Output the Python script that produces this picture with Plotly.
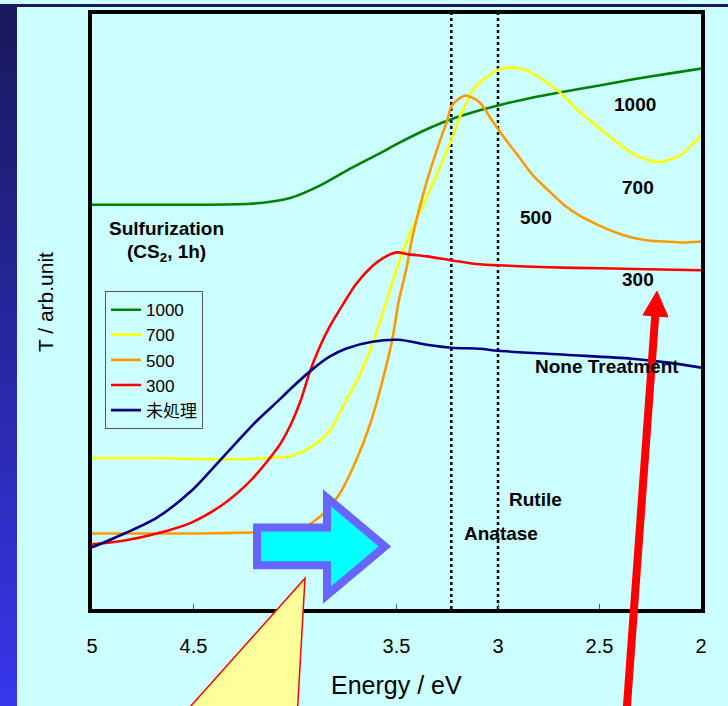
import plotly.graph_objects as go

# ---------------- data (Energy in eV, transmittance in arbitrary units) ----------------
e_1000 = [5.00, 4.71, 4.47, 4.22, 4.12, 4.02, 3.88, 3.73, 3.58, 3.49, 3.34, 3.23, 3.09, 3.00,
          2.85, 2.67, 2.50, 2.34, 2.16, 2.00]
t_1000 = [408, 408, 408, 409, 411, 415, 427, 444, 460, 470, 485, 494, 503, 508,
          515, 522, 528, 534, 540, 545]

e_700 = [5.00, 4.71, 4.47, 4.22, 4.12, 4.02, 3.93, 3.83, 3.75, 3.68, 3.62, 3.57, 3.52, 3.47,
         3.42, 3.36, 3.29, 3.23, 3.18, 3.11, 3.04, 3.00, 2.93, 2.87, 2.81, 2.70, 2.59, 2.47,
         2.34, 2.26, 2.20, 2.10, 2.05, 2.00]
t_700 = [153, 153, 152, 152, 153, 155, 163, 180, 210, 237, 267, 297, 330, 360,
         385, 412, 444, 473, 500, 527, 539, 544, 546, 544, 538, 522, 500, 480,
         460, 453, 451, 458, 467, 478]

e_500 = [5.00, 4.71, 4.47, 4.22, 4.07, 3.98, 3.93, 3.86, 3.78, 3.70, 3.63, 3.57, 3.52, 3.49,
         3.45, 3.42, 3.36, 3.29, 3.25, 3.23, 3.19, 3.16, 3.13, 3.09, 3.03, 2.96, 2.90, 2.83,
         2.75, 2.67, 2.59, 2.50, 2.42, 2.34, 2.26, 2.18, 2.09, 2.00]
t_500 = [77, 77, 77, 78, 79, 81, 86, 97, 117, 150, 187, 230, 273, 310,
         345, 377, 425, 470, 493, 507, 515, 518, 516, 511, 493, 473, 457, 438,
         422, 407, 396, 387, 380, 375, 372, 371, 370, 371]

e_300 = [5.00, 4.84, 4.68, 4.51, 4.35, 4.22, 4.12, 4.07, 4.02, 3.97, 3.93, 3.88, 3.83, 3.76,
         3.70, 3.62, 3.56, 3.50, 3.44, 3.35, 3.23, 3.09, 3.00, 2.75, 2.50, 2.26, 2.00]
t_300 = [66, 70, 77, 88, 107, 130, 154, 168, 187, 212, 238, 264, 285, 309,
         328, 346, 355, 360, 358, 356, 352, 348, 347, 345, 344, 343, 342]

e_none = [5.00, 4.84, 4.68, 4.51, 4.35, 4.19, 4.07, 4.02, 3.91, 3.83, 3.75, 3.62, 3.49, 3.35,
          3.23, 3.09, 3.00, 2.67, 2.34, 2.16, 2.00]
t_none = [63, 77, 93, 120, 155, 190, 213, 223, 243, 255, 263, 270, 272, 267,
          264, 263, 261, 257, 253, 249, 244]

series_names = ["1000", "700", "500", "300", "未処理"]
series_colors = ["#008000", "#ffff00", "#ff9900", "#ff0000", "#000080"]

x_tickvals = [5, 4.5, 4, 3.5, 3, 2.5, 2]
anatase_ev = 3.23
rutile_ev = 3.0

# ---------------- layout geometry ----------------
W, H = 728, 706
L, R, T, B = 92, 27, 10, 97
PW, PH = W - L - R, H - T - B
BG = "#ccffff"


def px(x):
    return (x - L) / PW


def py(y):
    return (H - B - y) / PH


fig = go.Figure()
all_e = [e_1000, e_700, e_500, e_300, e_none]
all_t = [t_1000, t_700, t_500, t_300, t_none]
for name, col, e, t in zip(series_names, series_colors, all_e, all_t):
    fig.add_trace(go.Scatter(x=e, y=t, mode="lines", name=name,
                             line=dict(color=col, width=2.6, shape="spline", smoothing=0.8)))

shapes = []
# left gradient strip + top strip
n = 30
c0 = (0x1a, 0x1a, 0x5e)
c1 = (0x36, 0x36, 0xea)
for i in range(n):
    f = i / (n - 1)
    c = tuple(int(c0[k] + (c1[k] - c0[k]) * f) for k in range(3))
    y0 = H * i / n
    y1 = H * (i + 1) / n + 1
    shapes.append(dict(type="rect", xref="paper", yref="paper", layer="below",
                       x0=px(0), x1=px(17), y0=py(y1), y1=py(y0),
                       fillcolor="rgb(%d,%d,%d)" % c, line=dict(width=0)))
shapes.append(dict(type="rect", xref="paper", yref="paper", layer="below",
                   x0=px(0), x1=px(W), y0=py(3), y1=py(0),
                   fillcolor="#1a1a5e", line=dict(width=0)))

# dotted reference lines
for ev in (anatase_ev, rutile_ev):
    shapes.append(dict(type="line", xref="x", yref="paper", x0=ev, x1=ev, y0=0, y1=1,
                       line=dict(color="black", width=2.5, dash="dot"), layer="below"))


def path(points):
    return "M " + " L ".join("%f,%f" % (px(a), py(b)) for a, b in points) + " Z"


# block arrow
shapes.append(dict(type="path", xref="paper", yref="paper", layer="above",
                   path=path([(257, 527), (327, 527), (327, 497), (385, 546), (327, 595),
                              (327, 565), (257, 565)]),
                   fillcolor="#00ffff", line=dict(color="#6666ff", width=8)))
# yellow callout
shapes.append(dict(type="path", xref="paper", yref="paper", layer="above",
                   path=path([(305, 578), (179, 720), (297, 720)]),
                   fillcolor="#ffff99", line=dict(color="#ff0000", width=1.5)))
# red arrow
shapes.append(dict(type="line", xref="paper", yref="paper", layer="above",
                   x0=px(626), y0=py(720), x1=px(655.5), y1=py(310),
                   line=dict(color="#ff0000", width=8)))
shapes.append(dict(type="path", xref="paper", yref="paper", layer="above",
                   path=path([(657, 289), (668, 315), (643, 313)]),
                   fillcolor="#ff0000", line=dict(color="#ff0000", width=1)))

BOLD = "Liberation Sans, Arial, sans-serif"
ann = []


def label(text, x, y, size=19, bold=True, angle=0):
    ann.append(dict(text=("<b>%s</b>" % text) if bold else text, xref="paper", yref="paper",
                    x=px(x), y=py(y), xanchor="center", yanchor="middle", showarrow=False,
                    textangle=angle, font=dict(family=BOLD, size=size, color="black")))


label("Sulfurization", 166, 226)
label("(CS<sub>2</sub>, 1h)", 166, 251)
label("1000", 635, 101)
label("700", 638, 185)
label("500", 536, 215)
label("300", 638, 277)
label("None Treatment", 607, 365)
label("Rutile", 535, 499)
label("Anatase", 501, 533)
label("Energy / eV", 396, 686, size=25, bold=False)
label("T / arb.unit", 45, 300, size=21, bold=False, angle=-90)

fig.update_layout(
    width=W, height=H, margin=dict(l=L, r=R, t=T, b=B),
    paper_bgcolor=BG, plot_bgcolor=BG,
    shapes=shapes, annotations=ann,
    showlegend=True,
    legend=dict(x=px(105), y=py(289), xanchor="left", yanchor="top",
                bgcolor=BG, bordercolor="#555555", borderwidth=1,
                font=dict(family="Liberation Sans, Noto Sans CJK JP, sans-serif", size=17,
                          color="black"),
                tracegroupgap=0),
    xaxis=dict(range=[5, 2], tickvals=x_tickvals, ticks="inside", ticklen=5,
               tickcolor="#555555", tickwidth=1, showgrid=False, zeroline=False,
               showline=True, linecolor="black", linewidth=4, mirror=True,
               tickfont=dict(family="Liberation Sans, Arial, sans-serif", size=20, color="black"),
               ticklabelstandoff=16),
    yaxis=dict(range=[1, 600], showticklabels=False, ticks="", showgrid=False, zeroline=False,
               showline=True, linecolor="black", linewidth=4, mirror=True),
)

fig.write_html("out.html", config={"displayModeBar": False},
               post_script="document.body.style.margin='0';document.body.style.background='%s';" % BG)
